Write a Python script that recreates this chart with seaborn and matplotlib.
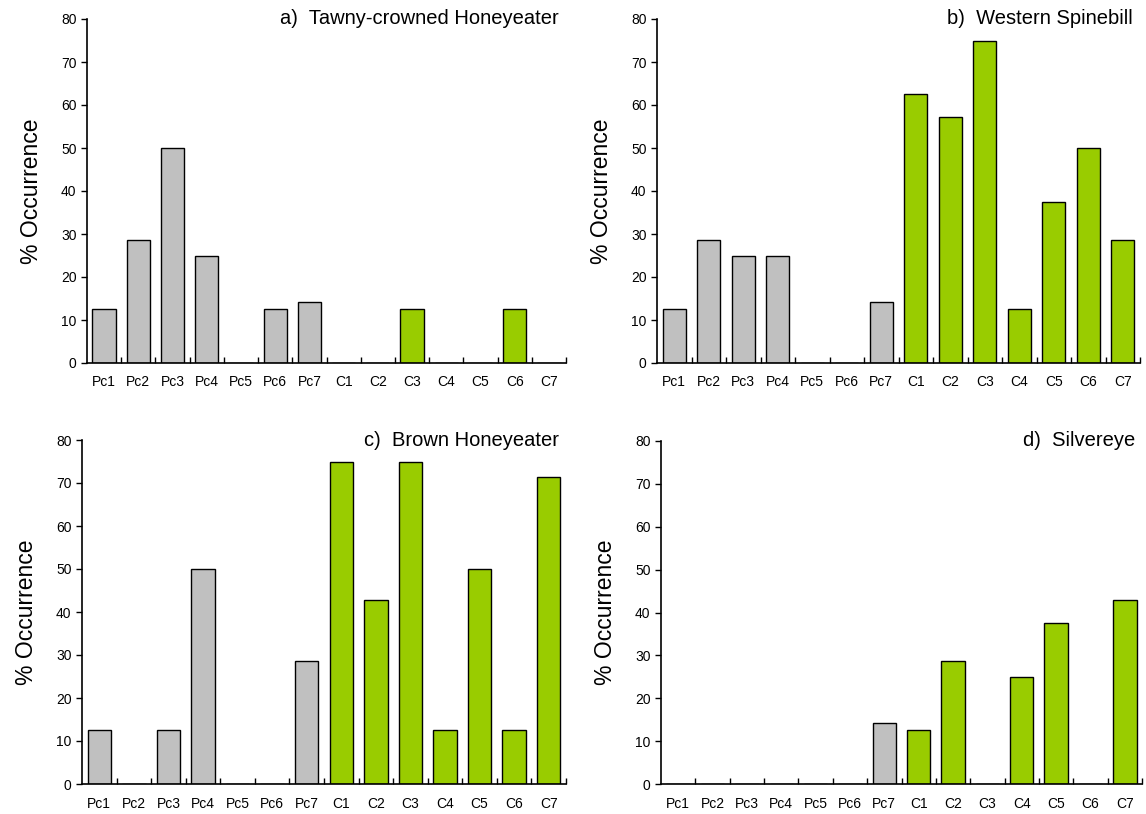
import numpy as np
import pandas as pd
import matplotlib
matplotlib.use('Agg')
import matplotlib.pyplot as plt
import seaborn as sns

# Sites : 7 sites "Pc" et 7 sites "C"
sites = ['Pc1', 'Pc2', 'Pc3', 'Pc4', 'Pc5', 'Pc6', 'Pc7',
         'C1', 'C2', 'C3', 'C4', 'C5', 'C6', 'C7']
groupes = ['Pc'] * 7 + ['C'] * 7

# % occurrence par espèce
tawny = [12.5, 28.6, 50, 25, 0, 12.5, 14.3, 0, 0, 12.5, 0, 0, 12.5, 0]
spinebill = [12.5, 28.6, 25, 25, 0, 0, 14.3, 62.5, 57.1, 75, 12.5, 37.5, 50, 28.6]
brown = [12.5, 0, 12.5, 50, 0, 0, 28.6, 75, 42.9, 75, 12.5, 50, 12.5, 71.4]
silvereye = [0, 0, 0, 0, 0, 0, 14.3, 12.5, 28.6, 0, 25, 37.5, 0, 42.9]

titres = ['a)  Tawny-crowned Honeyeater', 'b)  Western Spinebill',
          'c)  Brown Honeyeater', 'd)  Silvereye']
especes = [tawny, spinebill, brown, silvereye]

couleurs = {'Pc': '#C0C0C0', 'C': '#99CC00'}

sns.set_style('ticks')
plt.rcParams['font.family'] = ['Liberation Sans', 'DejaVu Sans']
plt.rcParams['text.color'] = 'black'
plt.rcParams['axes.labelcolor'] = 'black'
plt.rcParams['xtick.color'] = 'black'
plt.rcParams['ytick.color'] = 'black'
plt.rcParams['axes.edgecolor'] = 'black'

fig = plt.figure(figsize=(11.46, 8.14), dpi=100)

# positions des axes [gauche, bas, largeur, hauteur] en fraction de figure
positions = [
    [87 / 1146, 1 - 363 / 814, (566 - 87) / 1146, (363 - 19) / 814],
    [657 / 1146, 1 - 363 / 814, (1140 - 657) / 1146, (363 - 19) / 814],
    [82 / 1146, 1 - 784 / 814, (566 - 82) / 1146, (784 - 440) / 814],
    [661 / 1146, 1 - 784 / 814, (1142 - 661) / 1146, (784 - 441) / 814],
]

for pos, valeurs, titre in zip(positions, especes, titres):
    ax = fig.add_axes(pos)
    df = pd.DataFrame({'site': sites, 'occ': valeurs, 'groupe': groupes})
    sns.barplot(data=df, x='site', y='occ', hue='groupe', palette=couleurs,
                order=sites, dodge=False, width=0.68, edgecolor='black',
                linewidth=1.0, saturation=1, legend=False, ax=ax)
    ax.set_xlim(-0.5, 13.5)
    ax.set_ylim(0, 80)
    ax.set_yticks(np.arange(0, 81, 10))
    ax.set_xlabel('')
    ax.set_ylabel('% Occurrence', fontsize=16.5, labelpad=13)
    ax.tick_params(axis='y', labelsize=10, length=4, width=1, direction='out')
    ax.tick_params(axis='x', which='major', labelsize=10, length=0, pad=9)
    ax.set_xticks(np.arange(0.5, 14, 1), minor=True)
    ax.tick_params(axis='x', which='minor', length=4, width=1, direction='in')
    sns.despine(ax=ax)
    for s in ['left', 'bottom']:
        ax.spines[s].set_linewidth(1.2)
    ax.text(0.985, 1.0, titre, transform=ax.transAxes, ha='right', va='center',
            fontsize=14.5)

plt.savefig('out.png', dpi=100)
